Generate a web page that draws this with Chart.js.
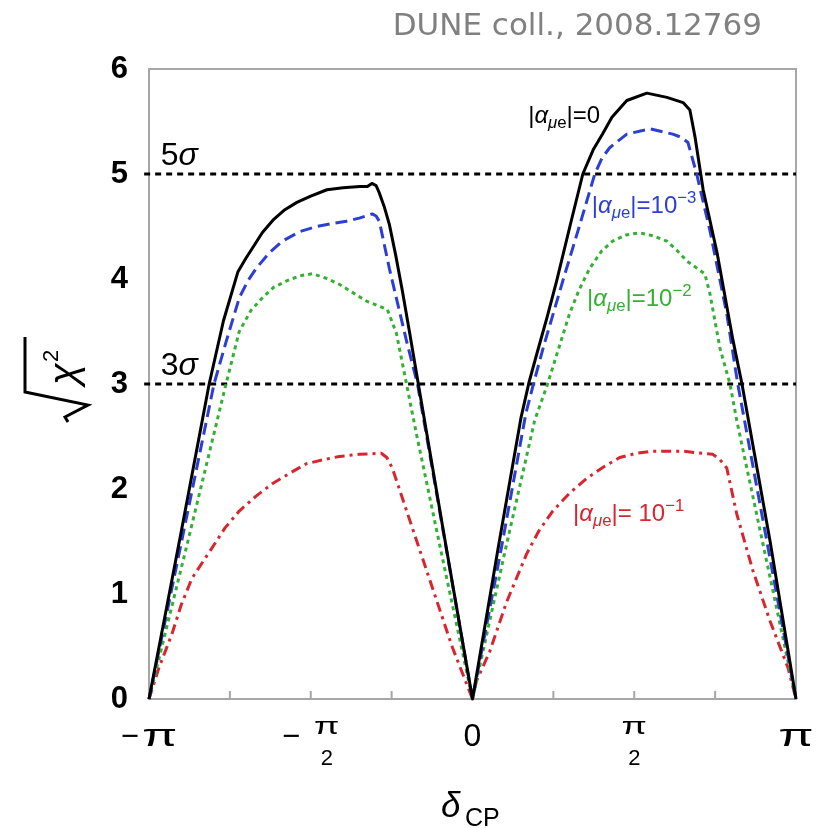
<!DOCTYPE html>
<html><head><meta charset="utf-8">
<script src="https://cdn.jsdelivr.net/npm/chart.js@4.4.0/dist/chart.umd.min.js"></script>
<style>html,body{margin:0;padding:0;background:#fff;}#wrap{width:823px;height:828px;}</style>
</head><body><div id="wrap"><canvas id="c" width="823" height="828"></canvas></div>
<script>
// delta_CP in units of pi
const blackX = [-1,-0.9,-0.814,-0.77,-0.725,-0.70,-0.679,-0.65,-0.617,-0.58,-0.543,-0.50,-0.45,-0.40,-0.348,-0.325,-0.311,-0.298,-0.288,-0.272,-0.257,-0.237,-0.217,-0.195,-0.173,-0.09,0,0.08,0.15,0.175,0.20,0.23,0.26,0.301,0.341,0.373,0.402,0.431,0.477,0.539,0.601,0.651,0.672,0.688,0.713,0.756,0.805,0.833,0.92,1];
const blackY = [0,1.6,3.0,3.6,4.07,4.20,4.30,4.44,4.56,4.66,4.73,4.79,4.85,4.87,4.88,4.88,4.91,4.89,4.82,4.68,4.52,4.22,3.89,3.50,3.10,1.6,0,1.45,2.68,3.02,3.30,3.63,3.98,4.50,5.0,5.23,5.38,5.54,5.70,5.77,5.73,5.68,5.61,5.35,4.85,4.25,3.42,3.0,1.5,0];
const blueX = [-1,-0.9,-0.799,-0.76,-0.721,-0.695,-0.669,-0.628,-0.588,-0.535,-0.483,-0.43,-0.39,-0.35,-0.31,-0.298,-0.288,-0.257,-0.204,-0.17,-0.085,0,0.09,0.165,0.19,0.22,0.279,0.33,0.378,0.40,0.424,0.477,0.548,0.619,0.645,0.666,0.693,0.734,0.786,0.820,0.91,1];
const blueY = [0,1.49,3.0,3.42,3.82,3.98,4.10,4.25,4.36,4.45,4.50,4.53,4.55,4.58,4.62,4.60,4.55,4.10,3.41,3.0,1.5,0,1.45,2.72,3.02,3.36,3.98,4.50,5.0,5.15,5.25,5.38,5.43,5.38,5.35,5.30,5.0,4.46,3.67,3.0,1.5,0];
const greenX = [-1,-0.88,-0.762,-0.721,-0.685,-0.65,-0.615,-0.576,-0.535,-0.495,-0.455,-0.412,-0.37,-0.328,-0.263,-0.235,-0.204,-0.173,-0.09,0,0.1,0.192,0.232,0.30,0.33,0.362,0.40,0.433,0.475,0.517,0.56,0.601,0.633,0.663,0.718,0.734,0.765,0.796,0.817,0.91,1];
const greenY = [0,1.5,3.0,3.5,3.70,3.82,3.92,3.98,4.03,4.05,4.01,3.95,3.87,3.79,3.71,3.48,3.0,2.52,1.3,0,1.4,2.65,3.0,3.67,3.90,4.10,4.27,4.36,4.42,4.44,4.41,4.36,4.27,4.17,4.05,3.86,3.34,3.0,2.65,1.3,0];
const redX = [-1,-0.969,-0.929,-0.9,-0.867,-0.835,-0.805,-0.765,-0.721,-0.67,-0.619,-0.565,-0.514,-0.46,-0.412,-0.35,-0.282,-0.265,-0.248,-0.186,-0.124,-0.062,0,0.012,0.053,0.105,0.167,0.205,0.248,0.30,0.353,0.405,0.455,0.505,0.557,0.65,0.743,0.765,0.786,0.817,0.867,0.92,0.975,1];
const redY = [0,0.3,0.62,0.90,1.15,1.30,1.44,1.63,1.79,1.93,2.05,2.15,2.24,2.28,2.31,2.33,2.34,2.30,2.20,1.63,1.06,0.49,0,0.17,0.45,0.92,1.38,1.60,1.79,1.96,2.10,2.21,2.30,2.34,2.36,2.36,2.33,2.28,2.20,1.76,1.22,0.74,0.3,0];
const sigmaLevels = [5, 3];
const sigmaLabels = ['5', '3'];
const seriesExp = ['0', '10', '10', '10'];
const seriesSup = ['', '−3', '−2', '−1'];
const xTickValues = [-1, -0.5, 0, 0.5, 1];
const xTickSigns = ['−', '−', '', '', ''];
const xTickNums = ['π', 'π', '0', 'π', 'π'];
const xTickDens = ['', '2', '', '2', ''];
const yTickValues = [0, 1, 2, 3, 4, 5, 6];

const toPts = (xs, ys) => xs.map((v, i) => ({x: v, y: ys[i]}));
const FF = '"Liberation Sans", Arial, sans-serif';

function rich(ctx, x, y, segs, base, color) {
  let cx = x;
  ctx.fillStyle = color; ctx.textBaseline = 'alphabetic'; ctx.textAlign = 'left';
  segs.forEach(s => {
    const size = (s.sub || s.sup) ? base * 0.7 : base;
    ctx.font = (s.it ? 'italic ' : '') + size + 'px ' + FF;
    const dy = s.sub ? base * 0.22 : (s.sup ? -base * 0.42 : 0);
    ctx.fillText(s.t, cx, y + dy);
    cx += ctx.measureText(s.t).width;
  });
}
function alphaSegs(i) {
  const segs = [{t:'|'},{t:'α', it:true},{t:'μ', it:true, sub:true},{t:'e', sub:true},{t: i === 3 ? '|= ' : '|='},{t: seriesExp[i]}];
  if (seriesSup[i]) segs.push({t: seriesSup[i], sup:true});
  return segs;
}
const PI_STRETCH = 1.6;
function textW(ctx, t, size) { ctx.font = size + 'px ' + FF; return ctx.measureText(t).width * (t === 'π' ? PI_STRETCH : 1); }
function drawT(ctx, t, size, xl, base) {
  ctx.font = size + 'px ' + FF; ctx.textAlign = 'left'; ctx.textBaseline = 'alphabetic';
  if (t === 'π') { ctx.save(); ctx.translate(xl, base); ctx.scale(PI_STRETCH, 1); ctx.fillText(t, 0, 0); ctx.restore(); }
  else ctx.fillText(t, xl, base);
}

const deco = {
  id: 'deco',
  beforeDatasetsDraw(chart) {
    const {ctx, chartArea: a, scales: {x}} = chart;
    ctx.save();
    ctx.strokeStyle = '#a6a6a6'; ctx.lineWidth = 2;
    ctx.strokeRect(a.left, a.top, a.right - a.left, a.bottom - a.top);
    x.ticks.forEach(t => {
      const px = x.getPixelForValue(t.value);
      ctx.beginPath(); ctx.moveTo(px, a.bottom); ctx.lineTo(px, a.bottom - 8); ctx.stroke();
    });
    ctx.restore();
  },
  afterDatasetsDraw(chart) {
    const {ctx, scales: {x, y}} = chart;
    ctx.save();
    sigmaLevels.forEach((lv, i) => {
      rich(ctx, x.getPixelForValue(-0.964), y.getPixelForValue(lv + 0.086), [{t: sigmaLabels[i]}, {t:'σ', it:true}], 32, '#000');
    });
    const lab = [[0.172, 5.486, '#000'], [0.369, 4.629, '#2b3fd4'], [0.354, 3.743, '#35b035'], [0.311, 1.695, '#d8252e']];
    lab.forEach((l, i) => rich(ctx, x.getPixelForValue(l[0]), y.getPixelForValue(l[1]), alphaSegs(i), 24, l[2]));
    ctx.fillStyle = '#000';
    xTickValues.forEach((v, i) => {
      const px = x.getPixelForValue(v);
      const s = xTickSigns[i], n = xTickNums[i], d = xTickDens[i];
      const sw = s ? textW(ctx, s, 31) : 0;
      if (!d) {
        const gap = s ? 3 : 0;
        const nw = textW(ctx, n, 32);
        const left = px - (sw + gap + nw) / 2;
        if (s) drawT(ctx, s, 31, left, 746);
        drawT(ctx, n, 32, left + sw + gap, 746);
      } else {
        const nw = textW(ctx, n, 23), dw = textW(ctx, d, 22);
        const fw = Math.max(nw, dw);
        const gap = s ? 14 : 0;
        const left = px - (sw + gap + fw) / 2;
        if (s) drawT(ctx, s, 31, left, 746);
        const fc = left + sw + gap + fw / 2;
        drawT(ctx, n, 23, fc - nw / 2, 734);
        drawT(ctx, d, 22, fc - dw / 2, 765);
      }
    });
    ctx.restore();
  },
  afterDraw(chart) {
    const ctx = chart.ctx;
    ctx.save();
    rich(ctx, 441, 817, [{t:'δ', it:true}], 35, '#000');
    ctx.font = '25px ' + FF; ctx.textAlign = 'left'; ctx.fillText('CP', 465, 826);
    ctx.translate(85, 420); ctx.rotate(-Math.PI / 2);
    ctx.strokeStyle = '#000'; ctx.lineWidth = 3; ctx.lineJoin = 'miter';
    ctx.beginPath();
    ctx.moveTo(-2, -17); ctx.lineTo(3, -20); ctx.lineTo(15, 3); ctx.lineTo(28, -60); ctx.lineTo(83, -60);
    ctx.stroke();
    ctx.fillStyle = '#000'; ctx.textAlign = 'left'; ctx.textBaseline = 'alphabetic';
    ctx.font = 'italic 40px ' + FF; ctx.fillText('χ', 35, -8);
    ctx.font = '22px ' + FF; ctx.fillText('2', 58, -27);
    ctx.restore();
    ctx.save();
    ctx.font = '31px "DejaVu Sans"'; ctx.fillStyle = '#808080'; ctx.textAlign = 'right'; ctx.textBaseline = 'alphabetic';
    ctx.fillText('DUNE coll., 2008.12769', 762, 35);
    ctx.restore();
  }
};

const line = (data, color, dash, order) => ({
  data, borderColor: color, borderWidth: 3, borderDash: dash, pointRadius: 0,
  tension: 0, fill: false, clip: 6, order, borderJoinStyle: 'round'
});

new Chart(document.getElementById('c'), {
  type: 'line',
  data: {
    datasets: [
      line(toPts(redX, redY), '#d8252e', [10, 5, 3, 5], 4),
      line(toPts(greenX, greenY), '#35b035', [4, 4], 3),
      line(toPts(blueX, blueY), '#2b3fd4', [12, 6], 2),
      line(toPts(blackX, blackY), '#000000', [], 1),
      ...sigmaLevels.map(lv => ({data: [{x: -1.015, y: lv}, {x: 1, y: lv}], borderColor: '#000', borderWidth: 3, borderDash: [6, 5], pointRadius: 0, clip: false, order: 5}))
    ]
  },
  options: {
    responsive: false, animation: false, devicePixelRatio: 1,
    layout: {padding: {top: 69, right: 27, left: 0, bottom: 0}},
    plugins: {legend: {display: false}, title: {display: false}, tooltip: {enabled: false}},
    scales: {
      x: {type: 'linear', min: -1, max: 1,
          ticks: {display: false, stepSize: 0.25},
          grid: {display: false, drawTicks: false}, border: {display: false},
          afterFit: s => { s.height = 129; }},
      y: {min: 0, max: 6,
          afterBuildTicks: s => { s.ticks = yTickValues.map(v => ({value: v})); },
          ticks: {color: '#000', padding: 21, font: {family: FF, size: 31, weight: 'bold'}},
          grid: {display: false, drawTicks: false}, border: {display: false},
          afterFit: s => { s.width = 149; }}
    }
  },
  plugins: [deco]
});
</script></body></html>
